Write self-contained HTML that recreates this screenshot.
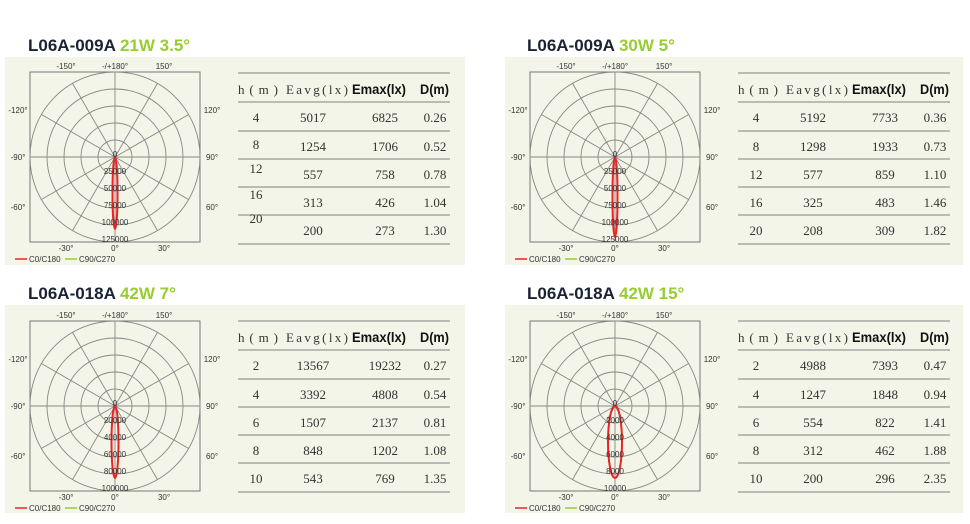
<!DOCTYPE html>
<html><head><meta charset="utf-8"><style>
body{margin:0;width:970px;height:524px;background:#fff;overflow:hidden}
svg{display:block}
.t{font-family:"Liberation Sans",sans-serif;font-weight:bold;font-size:17px}
.ax{font-family:"Liberation Sans",sans-serif;font-size:8px;fill:#333}
.tb{font-family:"Liberation Serif",serif;font-size:13px;fill:#333}
.hd{font-family:"Liberation Sans",sans-serif;font-weight:bold;font-size:14px;fill:#111}
</style></head><body>
<svg width="970" height="524" viewBox="0 0 970 524">
<defs>
<g id="polar">
<rect x="-85" y="-85" width="170" height="170" fill="none" stroke="#777" stroke-width="1"/>
<g fill="none" stroke="#888" stroke-width="0.9">
<circle r="17"/><circle r="34"/><circle r="51"/><circle r="68"/><circle r="85"/>
<line x1="0" y1="-85" x2="0" y2="85"/><line x1="-85" y1="0" x2="85" y2="0"/>
<line x1="-42.5" y1="-73.6" x2="42.5" y2="73.6"/><line x1="42.5" y1="-73.6" x2="-42.5" y2="73.6"/>
<line x1="-73.6" y1="-42.5" x2="73.6" y2="42.5"/><line x1="73.6" y1="-42.5" x2="-73.6" y2="42.5"/>
</g>
<g class="ax" text-anchor="middle">
<text x="-49" y="-88">-150°</text><text x="0" y="-88">-/+180°</text><text x="49" y="-88">150°</text>
<text x="-49" y="94">-30°</text><text x="0" y="94">0°</text><text x="49" y="94">30°</text>
<text x="-97" y="-44">-120°</text><text x="97" y="-44">120°</text>
<text x="-97" y="3">-90°</text><text x="97" y="3">90°</text>
<text x="-97" y="53">-60°</text><text x="97" y="53">60°</text>
</g>
<line x1="-100" y1="102" x2="-88" y2="102" stroke="#e22" stroke-width="1.5"/>
<text x="-86" y="105" class="ax" font-size="7">C0/C180</text>
<line x1="-50" y1="102" x2="-38" y2="102" stroke="#9c3" stroke-width="1.5"/>
<text x="-36" y="105" class="ax" font-size="7">C90/C270</text>
</g>
<g id="tbl">
<g stroke="#999" stroke-width="1.2">
<line x1="0" y1="0" x2="212" y2="0"/><line x1="0" y1="29" x2="212" y2="29"/><line x1="0" y1="58" x2="212" y2="58"/>
<line x1="0" y1="86" x2="212" y2="86"/><line x1="0" y1="114" x2="212" y2="114"/><line x1="0" y1="142" x2="212" y2="142"/><line x1="0" y1="171" x2="212" y2="171"/>
</g>
<text x="0" y="21" class="tb" font-size="14" textLength="40" lengthAdjust="spacing">h(m)</text>
<text x="48" y="21" class="tb" font-size="14" textLength="62" lengthAdjust="spacing">Eavg(lx)</text>
<text x="114" y="21" class="hd" textLength="54" lengthAdjust="spacingAndGlyphs">Emax(lx)</text>
<text x="182" y="21" class="hd" textLength="29" lengthAdjust="spacingAndGlyphs">D(m)</text>
</g>
</defs>

<rect x="5" y="57" width="460" height="208" fill="#f3f5e8"/>
<rect x="505" y="57" width="458" height="208" fill="#f3f5e8"/>
<rect x="5" y="305" width="460" height="208" fill="#f3f5e8"/>
<rect x="505" y="305" width="458" height="208" fill="#f3f5e8"/>

<text x="28" y="51" class="t"><tspan fill="#1a2233">L06A-009A </tspan><tspan fill="#9c3">21W 3.5°</tspan></text>
<text x="527" y="51" class="t"><tspan fill="#1a2233">L06A-009A </tspan><tspan fill="#9c3">30W 5°</tspan></text>
<text x="28" y="299" class="t"><tspan fill="#1a2233">L06A-018A </tspan><tspan fill="#9c3">42W 7°</tspan></text>
<text x="527" y="299" class="t"><tspan fill="#1a2233">L06A-018A </tspan><tspan fill="#9c3">42W 15°</tspan></text>

<g transform="translate(115,157)">
<use href="#polar"/>
<ellipse cx="0" cy="36" rx="2.5" ry="36" fill="none" stroke="#e22" stroke-width="2"/>
<g class="ax" text-anchor="middle" font-size="8.5" fill="#111"><text x="0" y="0">0</text><text x="0" y="17">25000</text><text x="0" y="34">50000</text><text x="0" y="51">75000</text><text x="0" y="68">100000</text><text x="0" y="85">125000</text></g>
</g>
<g transform="translate(238,73)"><use href="#tbl"/>
<g class="tb" text-anchor="middle"><text x="18" y="49">4</text><text x="18" y="76">8</text><text x="18" y="100">12</text><text x="18" y="126">16</text><text x="18" y="150">20</text>
<text x="75" y="49">5017</text><text x="75" y="78">1254</text><text x="75" y="106">557</text><text x="75" y="134">313</text><text x="75" y="162">200</text>
<text x="147" y="49">6825</text><text x="147" y="78">1706</text><text x="147" y="106">758</text><text x="147" y="134">426</text><text x="147" y="162">273</text>
<text x="197" y="49">0.26</text><text x="197" y="78">0.52</text><text x="197" y="106">0.78</text><text x="197" y="134">1.04</text><text x="197" y="162">1.30</text></g>
</g>

<g transform="translate(615,157)">
<use href="#polar"/>
<ellipse cx="0" cy="40" rx="2.5" ry="40" fill="none" stroke="#e22" stroke-width="2"/>
<g class="ax" text-anchor="middle" font-size="8.5" fill="#111"><text x="0" y="0">0</text><text x="0" y="17">25000</text><text x="0" y="34">50000</text><text x="0" y="51">75000</text><text x="0" y="68">100000</text><text x="0" y="85">125000</text></g>
</g>
<g transform="translate(738,73)"><use href="#tbl"/>
<g class="tb" text-anchor="middle"><text x="18" y="49">4</text><text x="18" y="78">8</text><text x="18" y="106">12</text><text x="18" y="134">16</text><text x="18" y="162">20</text>
<text x="75" y="49">5192</text><text x="75" y="78">1298</text><text x="75" y="106">577</text><text x="75" y="134">325</text><text x="75" y="162">208</text>
<text x="147" y="49">7733</text><text x="147" y="78">1933</text><text x="147" y="106">859</text><text x="147" y="134">483</text><text x="147" y="162">309</text>
<text x="197" y="49">0.36</text><text x="197" y="78">0.73</text><text x="197" y="106">1.10</text><text x="197" y="134">1.46</text><text x="197" y="162">1.82</text></g>
</g>

<g transform="translate(115,406)">
<use href="#polar"/>
<ellipse cx="0" cy="36" rx="3.5" ry="36" fill="none" stroke="#e22" stroke-width="2"/>
<g class="ax" text-anchor="middle" font-size="8.5" fill="#111"><text x="0" y="0">0</text><text x="0" y="17">20000</text><text x="0" y="34">40000</text><text x="0" y="51">60000</text><text x="0" y="68">80000</text><text x="0" y="85">100000</text></g>
</g>
<g transform="translate(238,321)"><use href="#tbl"/>
<g class="tb" text-anchor="middle"><text x="18" y="49">2</text><text x="18" y="78">4</text><text x="18" y="106">6</text><text x="18" y="134">8</text><text x="18" y="162">10</text>
<text x="75" y="49">13567</text><text x="75" y="78">3392</text><text x="75" y="106">1507</text><text x="75" y="134">848</text><text x="75" y="162">543</text>
<text x="147" y="49">19232</text><text x="147" y="78">4808</text><text x="147" y="106">2137</text><text x="147" y="134">1202</text><text x="147" y="162">769</text>
<text x="197" y="49">0.27</text><text x="197" y="78">0.54</text><text x="197" y="106">0.81</text><text x="197" y="134">1.08</text><text x="197" y="162">1.35</text></g>
</g>

<g transform="translate(615,406)">
<use href="#polar"/>
<ellipse cx="0" cy="36" rx="7" ry="36" fill="none" stroke="#e22" stroke-width="2"/>
<g class="ax" text-anchor="middle" font-size="8.5" fill="#111"><text x="0" y="0">0</text><text x="0" y="17">2000</text><text x="0" y="34">4000</text><text x="0" y="51">6000</text><text x="0" y="68">8000</text><text x="0" y="85">10000</text></g>
</g>
<g transform="translate(738,321)"><use href="#tbl"/>
<g class="tb" text-anchor="middle"><text x="18" y="49">2</text><text x="18" y="78">4</text><text x="18" y="106">6</text><text x="18" y="134">8</text><text x="18" y="162">10</text>
<text x="75" y="49">4988</text><text x="75" y="78">1247</text><text x="75" y="106">554</text><text x="75" y="134">312</text><text x="75" y="162">200</text>
<text x="147" y="49">7393</text><text x="147" y="78">1848</text><text x="147" y="106">822</text><text x="147" y="134">462</text><text x="147" y="162">296</text>
<text x="197" y="49">0.47</text><text x="197" y="78">0.94</text><text x="197" y="106">1.41</text><text x="197" y="134">1.88</text><text x="197" y="162">2.35</text></g>
</g>
</svg>
</body></html>
